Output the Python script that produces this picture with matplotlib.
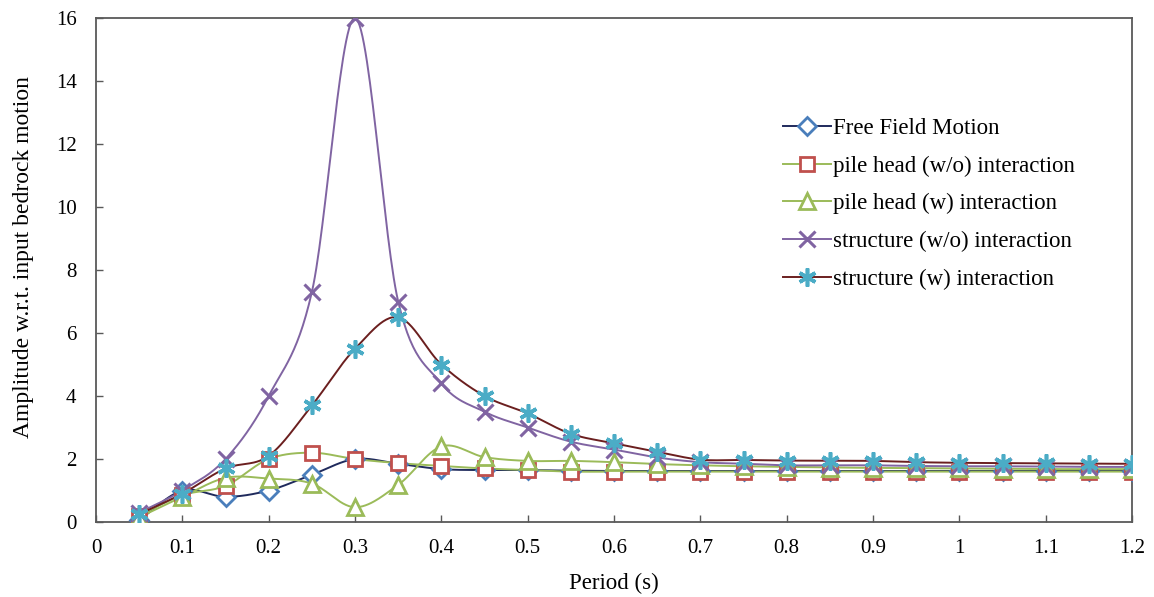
import numpy as np
import matplotlib
matplotlib.use("Agg")
import matplotlib.pyplot as plt
from matplotlib.lines import Line2D

period = [0.05, 0.1, 0.15, 0.2, 0.25, 0.3, 0.35, 0.4, 0.45, 0.5, 0.55, 0.6,
          0.65, 0.7, 0.75, 0.8, 0.85, 0.9, 0.95, 1.0, 1.05, 1.1, 1.15, 1.2]

free_field = [0.05, 1.0, 0.8, 1.0, 1.5, 2.0, 1.85, 1.68, 1.65, 1.65, 1.63, 1.62,
              1.62, 1.62, 1.62, 1.62, 1.62, 1.62, 1.62, 1.62, 1.62, 1.62, 1.62, 1.62]
pile_wo = [0.2, 0.85, 1.15, 2.0, 2.2, 2.0, 1.87, 1.78, 1.7, 1.65, 1.6, 1.6,
           1.6, 1.6, 1.6, 1.6, 1.6, 1.6, 1.6, 1.6, 1.6, 1.6, 1.6, 1.6]
pile_w = [0.15, 0.8, 1.4, 1.38, 1.22, 0.47, 1.18, 2.4, 2.06, 1.94, 1.94, 1.9,
          1.84, 1.8, 1.77, 1.75, 1.73, 1.72, 1.71, 1.7, 1.69, 1.68, 1.68, 1.68]
struct_wo = [0.3, 1.0, 2.0, 4.0, 7.3, 16.0, 7.0, 4.4, 3.5, 3.0, 2.55, 2.3,
             2.05, 1.9, 1.85, 1.8, 1.8, 1.8, 1.78, 1.77, 1.77, 1.76, 1.75, 1.75]
struct_w = [0.25, 0.9, 1.7, 2.1, 3.7, 5.5, 6.5, 5.0, 4.0, 3.45, 2.8, 2.5,
            2.23, 1.98, 1.97, 1.95, 1.95, 1.94, 1.9, 1.88, 1.87, 1.86, 1.85, 1.85]

labels = ["Free Field Motion", "pile head (w/o) interaction", "pile head (w) interaction",
          "structure (w/o) interaction", "structure (w) interaction"]


def smooth(x, y, n=30):
    # Catmull-Rom style smoothing like Excel's "smoothed line"
    x = np.asarray(x, float)
    y = np.asarray(y, float)
    xs, ys = [], []
    for i in range(len(x) - 1):
        p0 = (x[max(i - 1, 0)], y[max(i - 1, 0)])
        p1 = (x[i], y[i])
        p2 = (x[i + 1], y[i + 1])
        p3 = (x[min(i + 2, len(x) - 1)], y[min(i + 2, len(y) - 1)])
        c1 = (p1[0] + (p2[0] - p0[0]) / 6, p1[1] + (p2[1] - p0[1]) / 6)
        c2 = (p2[0] - (p3[0] - p1[0]) / 6, p2[1] - (p3[1] - p1[1]) / 6)
        t = np.linspace(0, 1, n)
        b0, b1, b2, b3 = (1 - t) ** 3, 3 * t * (1 - t) ** 2, 3 * t ** 2 * (1 - t), t ** 3
        xs.append(b0 * p1[0] + b1 * c1[0] + b2 * c2[0] + b3 * p2[0])
        ys.append(b0 * p1[1] + b1 * c1[1] + b2 * c2[1] + b3 * p2[1])
    return np.concatenate(xs), np.concatenate(ys)


plt.rcParams['font.family'] = ['Liberation Serif', 'DejaVu Serif']

fig = plt.figure(figsize=(11.54, 5.97), dpi=100)
ax = fig.add_axes([0.0832, 0.1256, 0.8978, 0.8442])

# data, line colour, marker, marker colour, marker size, marker edge width
series = [
    (free_field, '#1F2A5C', 'D', '#4A7EBB', 9, 2),
    (pile_wo, '#9BBB59', 's', '#C0504D', 10, 2),
    (pile_w, '#9BBB59', '^', '#9BBB59', 11, 2),
    (struct_wo, '#8064A2', 'x', '#8064A2', 12, 2.2),
    (struct_w, '#6B1F1F', (6, 2, 0), '#4BACC6', 13, 2.6),
]

handles = []
for (vals, lc, mk, mc, ms, mew), lab in zip(series, labels):
    sx, sy = smooth(period, vals)
    ax.plot(sx, sy, color=lc, lw=1.4, zorder=2)
    ax.plot(period, vals, ls='none', marker=mk, markersize=ms, markerfacecolor='white',
            markeredgecolor=mc, markeredgewidth=mew, zorder=3)
    handles.append(Line2D([], [], color=lc, lw=1.4, marker=mk, markersize=ms,
                          markerfacecolor='white', markeredgecolor=mc, markeredgewidth=mew))

ax.set_xlim(0, 1.2)
ax.set_ylim(0, 16)
xt = np.round(np.arange(0, 1.21, 0.1), 1)
ax.set_xticks(xt)
ax.set_xticklabels(['0' if v == 0 else ('1' if v == 1 else f'{v:g}') for v in xt])
ax.set_yticks(range(0, 17, 2))
ax.tick_params(direction='in', length=5, width=1, colors='#595959', labelcolor='black',
               labelsize=15)
ax.tick_params(axis='x', pad=12)
ax.tick_params(axis='y', pad=14)
for s in ax.spines.values():
    s.set_color('#595959')
    s.set_linewidth(1.3)

ax.set_xlabel('Period (s)', fontsize=16.5, labelpad=11)
ax.set_ylabel('Amplitude w.r.t. input bedrock motion', fontsize=17)
ax.yaxis.set_label_coords(-0.060, 0.525)

fig.legend(handles, labels, loc='upper left', bbox_to_anchor=(783 / 1154, 1 - 118 / 597),
           frameon=False, fontsize=16.5, handlelength=2.1, handletextpad=0.1,
           labelspacing=0.72, borderpad=0, borderaxespad=0)

fig.savefig('out.png', dpi=100)
